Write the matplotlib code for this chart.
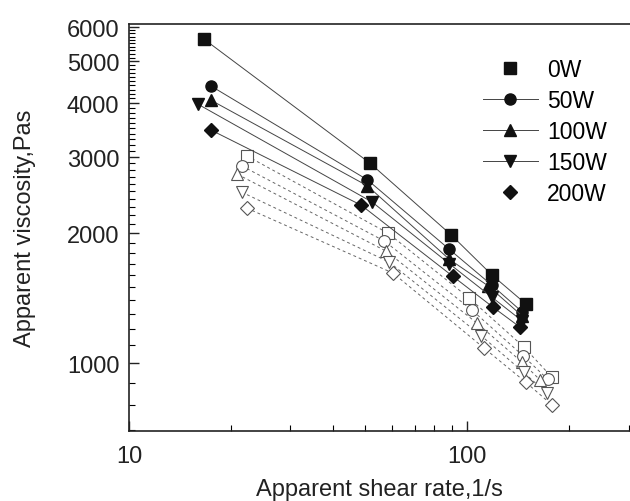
import matplotlib
matplotlib.use('Agg')
import matplotlib.pyplot as plt
import numpy as np
from matplotlib.ticker import FixedLocator, NullFormatter

plt.rcParams['font.family'] = ['Liberation Sans', 'DejaVu Sans']

# filled series (solid lines)
labels = ['0W', '50W', '100W', '150W', '200W']
markers = ['s', 'o', '^', 'v', 'D']
x_0w = [16.7, 51.7, 89.7, 118.3, 149.2]
y_0w = [5620, 2900, 1980, 1600, 1370]
x_50w = [17.45, 50.7, 88.4, 118.3, 145.2]
y_50w = [4385, 2657, 1836, 1515, 1315]
x_100w = [17.5, 50.7, 88.4, 115.1, 145.2]
y_100w = [4060, 2573, 1741, 1511, 1287]
x_150w = [16.0, 52.4, 88.4, 118.3, 145.2]
y_150w = [3977, 2359, 1700, 1421, 1253]
x_200w = [17.45, 48.6, 90.7, 119.1, 143.5]
y_200w = [3467, 2321, 1588, 1348, 1210]

# open series (dashed lines)
xo_sq = [22.3, 58.3, 101.4, 146.8, 178.1]
yo_sq = [3019, 2000, 1414, 1091, 927]
xo_ci = [21.55, 56.9, 103.3, 146.2, 172.8]
yo_ci = [2862, 1917, 1327, 1040, 918]
xo_tr = [20.9, 57.6, 106.8, 145.4, 164.4]
yo_tr = [2738, 1816, 1238, 1004, 913]
xo_dt = [21.55, 58.8, 110.0, 146.8, 172.1]
yo_dt = [2488, 1713, 1157, 952, 851]
xo_di = [22.3, 60.4, 112.5, 149.2, 178.1]
yo_di = [2285, 1615, 1081, 902, 800]

filled = [(x_0w, y_0w), (x_50w, y_50w), (x_100w, y_100w),
          (x_150w, y_150w), (x_200w, y_200w)]
opened = [(xo_sq, yo_sq), (xo_ci, yo_ci), (xo_tr, yo_tr),
          (xo_dt, yo_dt), (xo_di, yo_di)]

fig = plt.figure(figsize=(6.3, 5.02), dpi=100)
ax = fig.add_axes([129 / 630, 70 / 502, 1 - 129 / 630, 407 / 502])
ax.set_xscale('log')
ax.set_yscale('log')

line_col = '#444444'
for i, (xs, ys) in enumerate(opened):
    ax.plot(xs, ys, color='#666666', lw=0.7, ls=(0, (3, 3)), zorder=1)
    ms = 8.5 if markers[i] != 'D' else 7
    ax.plot(xs, ys, ls='none', marker=markers[i], ms=ms, mfc='white',
            mec='#555555', mew=0.8, zorder=2)

for i, (xs, ys) in enumerate(filled):
    ms = 8 if markers[i] != 'D' else 7
    if labels[i] in ('0W', '200W'):
        ax.plot(xs, ys, color=line_col, lw=0.7, zorder=3)
        ax.plot(xs, ys, ls='none', marker=markers[i], ms=ms, color='#111111',
                label=labels[i], zorder=4)
    else:
        ax.plot(xs, ys, color=line_col, lw=0.7, marker=markers[i], ms=ms,
                mfc='#111111', mec='#111111', label=labels[i], zorder=4)

ax.set_xlim(10, 303)
ax.set_ylim(696, 6100)

ax.xaxis.set_major_locator(FixedLocator([10, 100]))
ax.xaxis.set_minor_locator(FixedLocator([20, 30, 40, 50, 60, 70, 80, 90, 200, 300]))
ax.xaxis.set_major_formatter(matplotlib.ticker.FixedFormatter(['10', '100']))
ax.xaxis.set_minor_formatter(NullFormatter())

y_major = [1000, 2000, 3000, 4000, 5000, 6000]
y_minor = [v for v in range(700, 6001, 100) if v not in y_major]
ax.yaxis.set_major_locator(FixedLocator(y_major))
ax.yaxis.set_minor_locator(FixedLocator(y_minor))
ax.yaxis.set_major_formatter(matplotlib.ticker.FixedFormatter([str(v) for v in y_major]))
ax.yaxis.set_minor_formatter(NullFormatter())

ax.tick_params(which='major', direction='in', length=7, width=1, labelsize=17,
               colors='#222222')
ax.tick_params(which='minor', direction='in', length=4, width=0.8)
ax.tick_params(axis='x', which='major', pad=10)
ax.tick_params(axis='y', which='major', pad=7)

for s in ['left', 'bottom', 'top']:
    ax.spines[s].set_linewidth(1.2)
    ax.spines[s].set_color('#222222')
ax.spines['right'].set_visible(False)

ax.set_xlabel('Apparent shear rate,1/s', fontsize=17, color='#222222', labelpad=8)
ax.set_ylabel('Apparent viscosity,Pas', fontsize=17, color='#222222', labelpad=22)

leg = ax.legend(loc='upper right', bbox_to_anchor=(0.972, 0.94), frameon=False,
                fontsize=16.5, handlelength=2.4, labelspacing=0.35,
                handletextpad=0.4, borderaxespad=0)

fig.savefig('out.png', dpi=100)
